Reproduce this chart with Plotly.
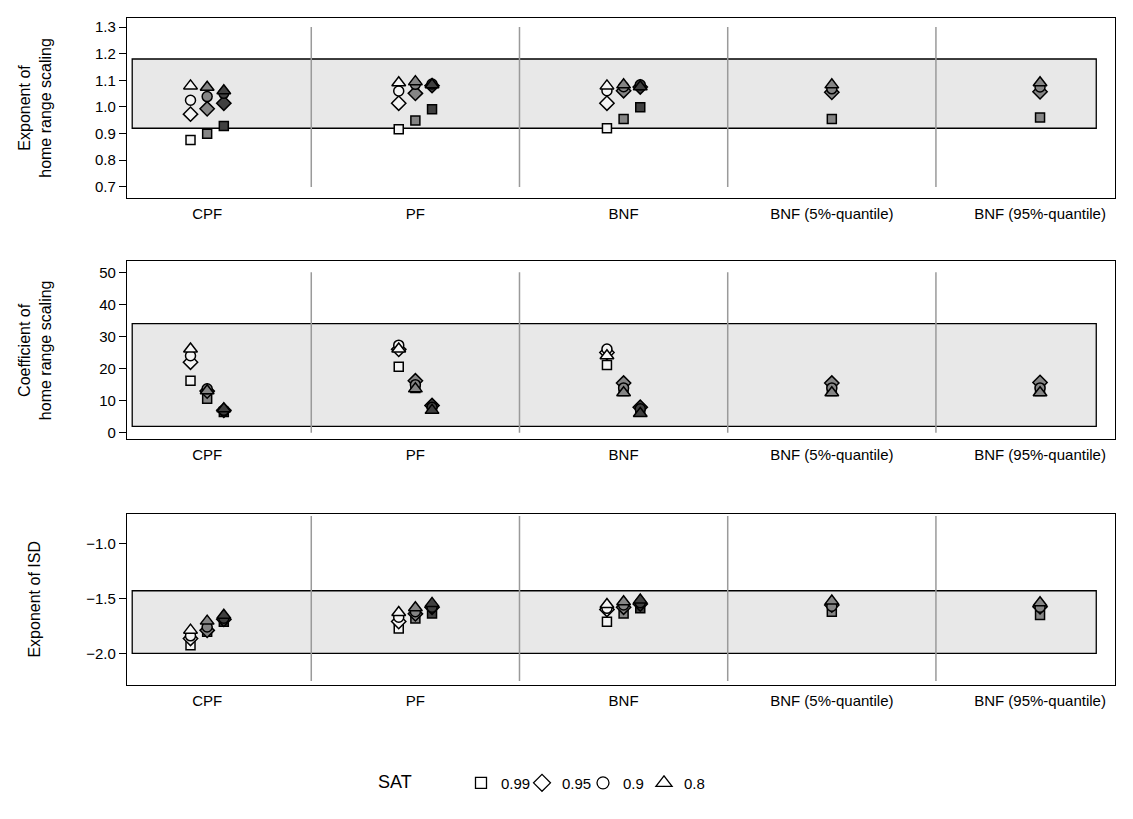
import plotly.graph_objects as go

# ---------------- data ----------------
categories = ["CPF", "PF", "BNF", "BNF (5%-quantile)", "BNF (95%-quantile)"]
sat_levels = ["0.99", "0.95", "0.9", "0.8"]

# each list: CPF(3 cols), PF(3 cols), BNF(3 cols), BNF 5%, BNF 95%
exp_hr_099 = [0.876, 0.899, 0.929, 0.916, 0.949, 0.991, 0.920, 0.955, 0.999, 0.955, 0.960]
exp_hr_095 = [0.973, 0.993, 1.014, 1.014, 1.051, 1.080, 1.014, 1.061, 1.075, 1.055, 1.057]
exp_hr_090 = [1.025, 1.039, 1.051, 1.060, 1.085, 1.086, 1.061, 1.076, 1.083, 1.068, 1.075]
exp_hr_080 = [1.079, 1.074, 1.061, 1.091, 1.095, 1.083, 1.079, 1.083, 1.076, 1.083, 1.091]

coef_hr_099 = [16.2, 10.6, 6.5, 20.6, 14.0, 7.5, 21.1, 13.0, 7.0, 13.0, 13.0]
coef_hr_095 = [22.0, 13.0, 7.0, 26.0, 16.2, 8.5, 25.0, 15.5, 8.0, 15.5, 15.7]
coef_hr_090 = [24.0, 13.7, 7.0, 27.3, 15.0, 8.0, 26.1, 14.0, 7.5, 14.0, 14.0]
coef_hr_080 = [26.1, 13.1, 7.5, 26.1, 13.7, 7.0, 24.0, 12.5, 6.0, 12.5, 12.5]

exp_isd_099 = [-1.925, -1.803, -1.712, -1.773, -1.682, -1.636, -1.712, -1.636, -1.590, -1.621, -1.651]
exp_isd_095 = [-1.864, -1.790, -1.690, -1.710, -1.640, -1.580, -1.600, -1.580, -1.550, -1.560, -1.575]
exp_isd_090 = [-1.840, -1.760, -1.680, -1.670, -1.620, -1.580, -1.590, -1.560, -1.540, -1.570, -1.580]
exp_isd_080 = [-1.788, -1.706, -1.652, -1.627, -1.585, -1.545, -1.555, -1.530, -1.515, -1.524, -1.539]

# reference ranges (shaded boxes)
ref_exp_hr = [0.92, 1.18]
ref_coef_hr = [2.0, 34.0]
ref_exp_isd = [-2.0, -1.43]

# group index / column of each value
group_idx = [0, 0, 0, 1, 1, 1, 2, 2, 2, 3, 4]
col_idx = [0, 1, 2, 0, 1, 2, 0, 1, 2, 1, 1]
col_offset = [-0.08, 0.0, 0.08]
quantile_groups = [3, 4]

# ---------------- style ----------------
col_fill = ["#f4f4f4", "#858585", "#404040"]
symbols = {"0.99": "square", "0.95": "diamond", "0.9": "circle", "0.8": "triangle-up"}
sizes = {"0.99": 9, "0.95": 11, "0.9": 10, "0.8": 12}
FONT = "Liberation Sans, Arial, sans-serif"
W, H, OFF = 1133, 819, 8  # page body margin offset


def px_x(px):
    return (px - OFF) / W


def px_y(py):
    return 1 - (py - OFF) / H


xpos = [g + (0.0 if g in quantile_groups else col_offset[c]) for g, c in zip(group_idx, col_idx)]
fills = [col_fill[c] for c in col_idx]

panels = [
    dict(data={"0.99": exp_hr_099, "0.95": exp_hr_095, "0.9": exp_hr_090, "0.8": exp_hr_080},
         ref=ref_exp_hr, yr=[0.66, 1.334], seg=[0.7, 1.3],
         tickvals=[0.7, 0.8, 0.9, 1.0, 1.1, 1.2, 1.3], fmt=".1f",
         title="Exponent of<br>home range scaling", dom=[px_y(198), px_y(18)]),
    dict(data={"0.99": coef_hr_099, "0.95": coef_hr_095, "0.9": coef_hr_090, "0.8": coef_hr_080},
         ref=ref_coef_hr, yr=[-1.9, 53.4], seg=[0, 50],
         tickvals=[0, 10, 20, 30, 40, 50], fmt="d",
         title="Coefficient of<br>home range scaling", dom=[px_y(440), px_y(262)]),
    dict(data={"0.99": exp_isd_099, "0.95": exp_isd_095, "0.9": exp_isd_090, "0.8": exp_isd_080},
         ref=ref_exp_isd, yr=[-2.29, -0.73], seg=[-2.25, -0.75],
         tickvals=[-2.0, -1.5, -1.0], fmt=".1f",
         title="Exponent of ISD", dom=[px_y(687), px_y(515)]),
]

fig = go.Figure()
xr = [-0.385, 4.36]
xdom = [px_x(127), px_x(1115)]
shapes = []
annotations = []

for i, p in enumerate(panels):
    k = "" if i == 0 else str(i + 1)
    xa, ya = "x" + k, "y" + k
    for s in sat_levels:
        fig.add_trace(go.Scatter(
            x=xpos, y=p["data"][s], mode="markers", xaxis=xa, yaxis=ya,
            showlegend=False, hoverinfo="skip",
            marker=dict(symbol=symbols[s], size=sizes[s], color=fills,
                        line=dict(color="black", width=1.5))))
    # shaded reference box
    shapes.append(dict(type="rect", xref=xa, yref=ya, x0=-0.36, x1=4.27,
                       y0=p["ref"][0], y1=p["ref"][1], fillcolor="#e8e8e8",
                       line=dict(color="black", width=1.3), layer="below"))
    # group separators
    for sx in [0.5, 1.5, 2.5, 3.5]:
        shapes.append(dict(type="line", xref=xa, yref=ya, x0=sx, x1=sx,
                           y0=p["seg"][0], y1=p["seg"][1],
                           line=dict(color="#9a9a9a", width=1.5), layer="below"))
    axcommon = dict(showline=True, mirror=True, linecolor="black", linewidth=1.3,
                    showgrid=False, zeroline=False)
    fig.layout["xaxis" + k] = dict(domain=xdom, range=xr, tickvals=list(range(5)),
                                    ticktext=categories, ticks="outside", ticklen=2,
                                    tickcolor="rgba(0,0,0,0)", anchor=ya,
                                    tickfont=dict(family=FONT, size=15, color="black"),
                                    **axcommon)
    fig.layout["yaxis" + k] = dict(domain=p["dom"], range=p["yr"], tickvals=p["tickvals"],
                                    tickformat=p["fmt"], ticks="outside", ticklen=7,
                                    tickwidth=1.3, tickcolor="black", anchor=xa,
                                    tickfont=dict(family=FONT, size=15, color="black"),
                                    **axcommon)
    annotations.append(dict(text=p["title"], xref="paper", yref="paper",
                            x=px_x(35), y=sum(p["dom"]) / 2, textangle=-90,
                            showarrow=False, xanchor="center", yanchor="middle",
                            font=dict(family=FONT, size=16, color="black")))

# legend title
annotations.append(dict(text="SAT", xref="paper", yref="paper", x=px_x(395), y=px_y(784),
                        showarrow=False, xanchor="center", yanchor="middle",
                        font=dict(family=FONT, size=18, color="black")))

# legend entries
for s in sat_levels:
    fig.add_trace(go.Scatter(x=[None], y=[None], mode="markers", name=s,
                             marker=dict(symbol=symbols[s] + "-open", size=sizes[s] + 2,
                                         color="black", line=dict(width=1.3))))

fig.update_layout(
    width=W, height=H,
    margin=dict(l=0, r=0, t=0, b=0),
    paper_bgcolor="white", plot_bgcolor="white",
    shapes=shapes, annotations=annotations,
    font=dict(family=FONT, color="black"),
    legend=dict(orientation="h", x=px_x(461), xanchor="left", y=px_y(785),
                yanchor="middle", font=dict(family=FONT, size=15, color="black"),
                itemwidth=30, entrywidth=16, entrywidthmode="pixels",
                tracegroupgap=0, bgcolor="rgba(0,0,0,0)"),
)

fig.write_html("out.html")
